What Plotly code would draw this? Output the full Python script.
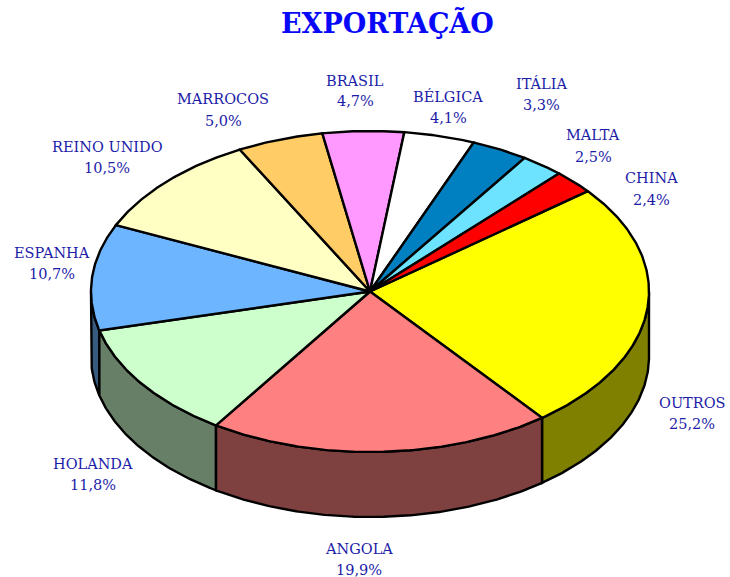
import numpy as np
import plotly.graph_objects as go

# ---- data (clockwise from the OUTROS slice) ----
categories = ["OUTROS", "ANGOLA", "HOLANDA", "ESPANHA", "REINO UNIDO", "MARROCOS",
              "BRASIL", "BÉLGICA", "ITÁLIA", "MALTA", "CHINA"]
values = [25.2, 19.9, 11.8, 10.7, 10.5, 5.0, 4.7, 4.1, 3.3, 2.5, 2.4]
colors = ["#FFFF00", "#FF8080", "#CCFFCC", "#6DB6FF", "#FFFFC4", "#FFCC66",
          "#FF99FF", "#FFFFFF", "#0080C0", "#6DE3FF", "#FF0000"]
title = "EXPORTAÇÃO"

# ---- layout constants ----
W, H = 730, 577
CX, CY, RX, RY, DEPTH = 370, 291.5, 279, 160.5, 65
START = 51.3  # clock angle, degrees, of the first slice edge
label_pos = {"OUTROS": (692, 403, 424), "ANGOLA": (359, 549, 570), "HOLANDA": (93, 464, 485),
             "ESPANHA": (52, 253, 274), "REINO UNIDO": (107, 147, 168), "MARROCOS": (223, 99, 121),
             "BRASIL": (355, 81, 101), "BÉLGICA": (448, 96, 118), "ITÁLIA": (541, 83, 105),
             "MALTA": (593, 135, 157), "CHINA": (651, 178, 200)}
TEXT = "#1C1CA8"
SERIF = "DejaVu Serif"


def arc(a, b, dy=0.0):
    n = max(2, int(abs(b - a) * 2))
    t = np.radians(np.linspace(a, b, n))
    return CX + RX * np.sin(t), CY - RY * np.cos(t) + dy


def darken(c):
    r, g, b = (int(c[i:i + 2], 16) // 2 for i in (1, 3, 5))
    return f"#{r:02x}{g:02x}{b:02x}"


shares = np.array(values) / sum(values) * 360
edges = START + np.concatenate([[0], np.cumsum(shares)])

fig = go.Figure()
line = dict(color="black", width=2.4)

# visible rim, back-to-front
rim = []
for i, (name, c) in enumerate(zip(categories, colors)):
    a, b = max(edges[i], 90), min(edges[i + 1], 270)
    if b > a:
        rim.append((i, a, b))
rim.sort(key=lambda r: -abs((r[1] + r[2]) / 2 - 180))
for i, a, b in rim:
    x1, y1 = arc(a, b)
    x2, y2 = arc(b, a, DEPTH)
    fig.add_trace(go.Scatter(x=np.r_[x1, x2, x1[0]], y=np.r_[y1, y2, y1[0]], mode="lines",
                             fill="toself", fillcolor=darken(colors[i]), line=line,
                             hoverinfo="skip", showlegend=False))

# top faces
for i, (name, c) in enumerate(zip(categories, colors)):
    x1, y1 = arc(edges[i], edges[i + 1])
    fig.add_trace(go.Scatter(x=np.r_[CX, x1, CX], y=np.r_[CY, y1, CY], mode="lines",
                             fill="toself", fillcolor=c, line=line, name=name,
                             hoverinfo="name", showlegend=False))

# labels
for name, v in zip(categories, values):
    x, y1, y2 = label_pos[name]
    pct = f"{v:.1f}%".replace(".", ",")
    for txt, y in ((name, y1), (pct, y2)):
        fig.add_annotation(x=x, y=y, text=txt, showarrow=False, xanchor="center", yanchor="middle",
                           font=dict(family=SERIF, size=14.5, color=TEXT))
fig.add_annotation(x=387, y=23, text=f"<b>{title}</b>", showarrow=False, xanchor="center",
                   yanchor="middle", font=dict(family=SERIF, size=27, color="#0808F8"))

fig.update_xaxes(range=[0, W], visible=False, fixedrange=True)
fig.update_yaxes(range=[H, 0], visible=False, fixedrange=True)
fig.update_layout(width=W, height=H, margin=dict(l=0, r=0, t=0, b=0), autosize=False,
                  paper_bgcolor="white", plot_bgcolor="white")
fig.write_html("out.html", post_script="document.body.style.margin='0';document.documentElement.style.overflow='hidden';",
               config={"displayModeBar": False})
